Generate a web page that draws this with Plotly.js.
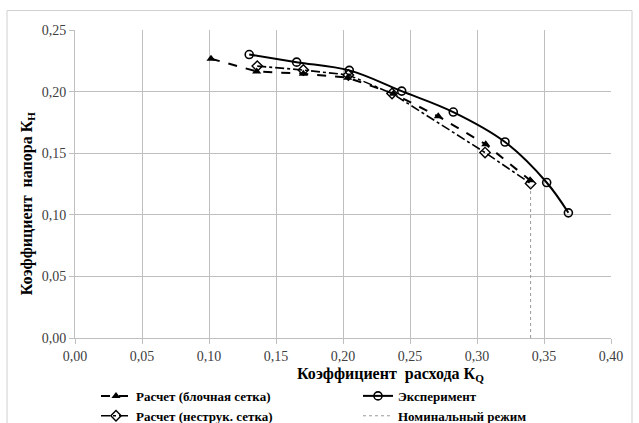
<!DOCTYPE html>
<html>
<head>
<meta charset="utf-8">
<script src="https://cdn.plot.ly/plotly-3.0.1.min.js"></script>
<style>html,body{margin:0;padding:0;background:#fff;}#chart{width:639px;height:423px;}</style>
</head>
<body>
<div id="chart"></div>
<script>
// Расчет (блочная сетка)
const blockKQ = [0.1015, 0.1356, 0.1704, 0.2035, 0.2376, 0.2711, 0.3065, 0.3396];
const blockKH = [0.2267, 0.2164, 0.2145, 0.2113, 0.1983, 0.1799, 0.1572, 0.1280];
// Расчет (неструк. сетка)
const unstrKQ = [0.1360, 0.1704, 0.2040, 0.2366, 0.3060, 0.3400];
const unstrKH = [0.2207, 0.2175, 0.2135, 0.1985, 0.1505, 0.1254];
// Эксперимент
const expKQ = [0.1300, 0.1654, 0.2047, 0.2438, 0.2823, 0.3209, 0.3520, 0.3682];
const expKH = [0.2301, 0.2239, 0.2172, 0.2004, 0.1834, 0.1591, 0.1262, 0.1016];
// Номинальный режим
const nomKQ = [0.3400, 0.3400];
const nomKH = [0.0000, 0.1230];

const xTicks = [0, 0.05, 0.10, 0.15, 0.20, 0.25, 0.30, 0.35, 0.40];
const yTicks = [0, 0.05, 0.10, 0.15, 0.20, 0.25];

const serif = "Liberation Serif, Times New Roman, serif";

const traces = [
  {x: blockKQ, y: blockKH, name: "Расчет (блочная сетка)", mode: "lines+markers",
   line: {color: "#000", width: 2, dash: "dash"},
   marker: {symbol: "triangle-up", size: 8, color: "#000"},
   legend: "legend", legendgroup: "a"},
  {x: expKQ, y: expKH, name: "Эксперимент", mode: "lines+markers",
   line: {color: "#000", width: 2, shape: "spline"},
   marker: {symbol: "circle-open", size: 8, color: "#000", line: {width: 1.6}},
   legend: "legend2", legendgroup: "c"},
  {x: unstrKQ, y: unstrKH, name: "Расчет (неструк. сетка)", mode: "lines+markers",
   line: {color: "#000", width: 1.6, dash: "dashdot"},
   marker: {symbol: "diamond-open", size: 8, color: "#000", line: {width: 1.4}},
   legend: "legend", legendgroup: "b"},
  {x: nomKQ, y: nomKH, name: "Номинальный режим", mode: "lines",
   line: {color: "#999", width: 1, dash: "dot"},
   legend: "legend2", legendgroup: "d"}
];

const L = 75, R = 28, T = 29.5, B = 85;
const pw = 639 - L - R, ph = 423 - T - B;
const px = v => (v - L) / pw;
const py = v => (423 - B - v) / ph;

const legFont = {family: serif, size: 13, color: "#000", weight: "bold"};

const layout = {
  width: 639, height: 423,
  margin: {l: L, r: R, t: T, b: B, pad: 0, autoexpand: false},
  paper_bgcolor: "#fff", plot_bgcolor: "#fff",
  separators: ", ",
  showlegend: true,
  font: {family: serif, color: "#000"},
  xaxis: {range: [0, 0.40], tickvals: xTicks, tickformat: ".2f", automargin: false,
    showgrid: true, gridcolor: "#bfbfbf", gridwidth: 1,
    zeroline: false, showline: true, linecolor: "#bfbfbf", linewidth: 1,
    ticks: "outside", ticklen: 5, tickcolor: "#bfbfbf",
    tickfont: {family: serif, size: 14, color: "#404040"}},
  yaxis: {range: [0, 0.25], tickvals: yTicks, tickformat: ".2f", automargin: false,
    showgrid: true, gridcolor: "#bfbfbf", gridwidth: 1,
    zeroline: false, showline: true, linecolor: "#bfbfbf", linewidth: 1,
    ticks: "outside", ticklen: 5, tickcolor: "#bfbfbf",
    tickfont: {family: serif, size: 14, color: "#404040"}},
  legend: {x: px(96), xanchor: "left", y: py(381), yanchor: "top",
    orientation: "v", tracegroupgap: 0, itemwidth: 30,
    font: legFont, bgcolor: "rgba(0,0,0,0)"},
  legend2: {x: px(358), xanchor: "left", y: py(381), yanchor: "top",
    orientation: "v", tracegroupgap: 0, itemwidth: 30,
    font: legFont, bgcolor: "rgba(0,0,0,0)"},
  annotations: [
    {text: "Коэффициент  расхода К<sub>Q</sub>", xref: "paper", yref: "paper",
     x: px(390), y: py(375), xanchor: "center", yanchor: "middle", showarrow: false,
     font: {family: serif, size: 16, color: "#000", weight: "bold"}},
    {text: "Коэффициент  напора К<sub>Н</sub>", xref: "paper", yref: "paper",
     x: px(27), y: py(203), xanchor: "center", yanchor: "middle", showarrow: false, textangle: -90,
     font: {family: serif, size: 16, color: "#000", weight: "bold"}}
  ],
  shapes: [
    {type: "rect", xref: "paper", yref: "paper", x0: px(7), x1: px(632), y0: py(10), y1: py(440),
     line: {color: "#d0d0d0", width: 1}, fillcolor: "rgba(0,0,0,0)", layer: "below"}
  ]
};

Plotly.newPlot("chart", traces, layout, {displayModeBar: false, staticPlot: true});
</script>
</body>
</html>
